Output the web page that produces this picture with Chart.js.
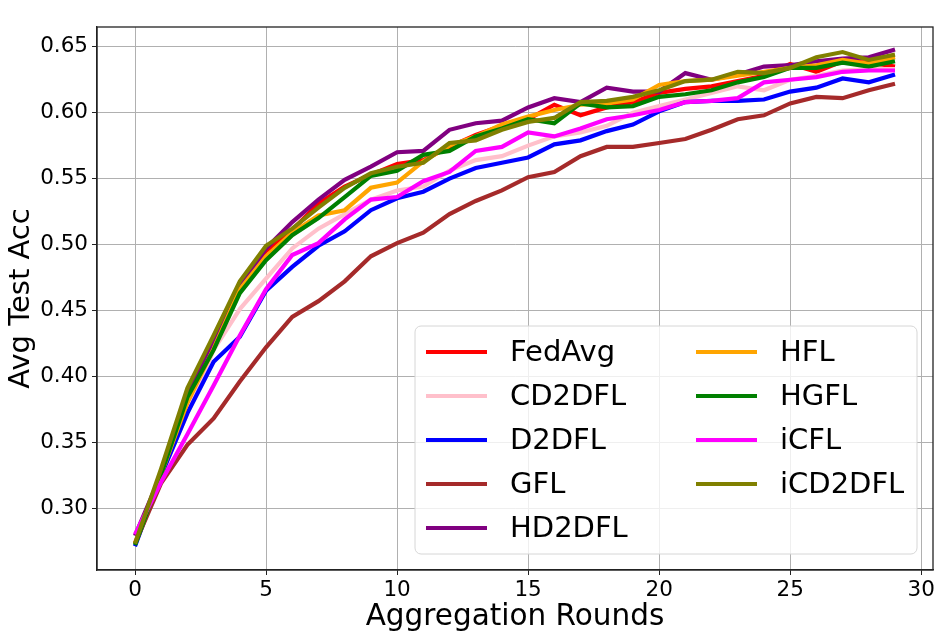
<!DOCTYPE html>
<html>
<head>
<meta charset="utf-8">
<script src="https://cdn.jsdelivr.net/npm/chart.js@4.4.0/dist/chart.umd.min.js"></script>
<style>
  body { margin: 0; background: #fff; }
  #wrap { width: 942px; height: 637px; }
</style>
</head>
<body>
<div id="wrap"><canvas id="accChart" width="942" height="637"></canvas></div>
<script>
var rounds = [0, 1, 2, 3, 4, 5, 6, 7, 8, 9, 10, 11, 12, 13, 14, 15, 16, 17, 18, 19, 20, 21, 22, 23, 24, 25, 26, 27, 28, 29];
var xTicks = [0, 5, 10, 15, 20, 25, 30];
var yTicks = [0.30, 0.35, 0.40, 0.45, 0.50, 0.55, 0.60, 0.65];

var fedAvg   = [0.273, 0.327, 0.380, 0.425, 0.468, 0.495, 0.511, 0.531, 0.544, 0.553, 0.561, 0.564, 0.574, 0.583, 0.590, 0.595, 0.606, 0.598, 0.604, 0.608, 0.615, 0.618, 0.620, 0.624, 0.628, 0.637, 0.631, 0.639, 0.638, 0.635];
var cd2dfl   = [0.274, 0.325, 0.372, 0.420, 0.451, 0.474, 0.497, 0.512, 0.523, 0.534, 0.541, 0.544, 0.556, 0.564, 0.567, 0.575, 0.582, 0.585, 0.590, 0.600, 0.605, 0.610, 0.615, 0.620, 0.617, 0.625, 0.628, 0.632, 0.633, 0.633];
var d2dfl    = [0.271, 0.325, 0.372, 0.411, 0.430, 0.465, 0.483, 0.499, 0.510, 0.526, 0.535, 0.540, 0.550, 0.558, 0.562, 0.566, 0.576, 0.579, 0.586, 0.591, 0.601, 0.608, 0.609, 0.609, 0.610, 0.616, 0.619, 0.626, 0.623, 0.629];
var gfl      = [0.273, 0.319, 0.348, 0.368, 0.396, 0.422, 0.445, 0.457, 0.472, 0.491, 0.501, 0.509, 0.523, 0.533, 0.541, 0.551, 0.555, 0.567, 0.574, 0.574, 0.577, 0.580, 0.587, 0.595, 0.598, 0.607, 0.612, 0.611, 0.617, 0.622];
var hd2dfl   = [0.279, 0.326, 0.385, 0.428, 0.468, 0.497, 0.517, 0.534, 0.549, 0.559, 0.570, 0.571, 0.587, 0.592, 0.594, 0.604, 0.611, 0.608, 0.619, 0.616, 0.616, 0.630, 0.625, 0.629, 0.635, 0.636, 0.639, 0.641, 0.642, 0.648];
var hfl      = [0.273, 0.326, 0.380, 0.421, 0.466, 0.491, 0.509, 0.522, 0.526, 0.543, 0.547, 0.563, 0.575, 0.582, 0.591, 0.597, 0.602, 0.606, 0.607, 0.610, 0.621, 0.624, 0.625, 0.628, 0.631, 0.634, 0.636, 0.640, 0.637, 0.642];
var hgfl     = [0.272, 0.326, 0.384, 0.420, 0.463, 0.488, 0.507, 0.520, 0.536, 0.552, 0.556, 0.568, 0.571, 0.582, 0.588, 0.595, 0.592, 0.607, 0.604, 0.605, 0.612, 0.614, 0.617, 0.623, 0.627, 0.634, 0.634, 0.638, 0.635, 0.639];
var icfl     = [0.280, 0.320, 0.356, 0.393, 0.431, 0.466, 0.492, 0.501, 0.519, 0.534, 0.536, 0.548, 0.555, 0.571, 0.574, 0.585, 0.582, 0.588, 0.595, 0.598, 0.602, 0.608, 0.609, 0.611, 0.623, 0.625, 0.627, 0.631, 0.632, 0.632];
var icd2dfl  = [0.273, 0.330, 0.391, 0.431, 0.472, 0.499, 0.512, 0.528, 0.543, 0.554, 0.559, 0.562, 0.577, 0.579, 0.587, 0.593, 0.596, 0.608, 0.609, 0.612, 0.617, 0.624, 0.625, 0.631, 0.630, 0.634, 0.642, 0.646, 0.640, 0.644];

var names  = ['FedAvg', 'CD2DFL', 'D2DFL', 'GFL', 'HD2DFL', 'HFL', 'HGFL', 'iCFL', 'iCD2DFL'];
var series = [fedAvg, cd2dfl, d2dfl, gfl, hd2dfl, hfl, hgfl, icfl, icd2dfl];
var colors = ['#ff0000', '#ffc0cb', '#0000ff', '#a52a2a', '#800080', '#ffa500', '#008000', '#ff00ff', '#808000'];

var FONT = "'DejaVu Sans', sans-serif";

function toPoints(vals) {
  return rounds.map(function (r, i) { return { x: r, y: vals[i] }; });
}

var datasets = series.map(function (vals, i) {
  return {
    label: names[i],
    data: toPoints(vals),
    borderColor: colors[i],
    backgroundColor: colors[i],
    borderWidth: 4.2,
    pointRadius: 0,
    tension: 0,
    fill: false,
    order: series.length - 1 - i   // last series on top, like matplotlib
  };
});

// frame on all four sides + matplotlib style 2-column legend
var frameLegend = {
  id: 'frameLegend',
  afterDatasetsDraw: function (chart) {
    var a = chart.chartArea, c = chart.ctx;
    c.save();
    c.strokeStyle = '#222';
    c.lineWidth = 1.3;
    c.strokeRect(a.left, a.top, a.right - a.left, a.bottom - a.top);

    var w = 502, h = 228;
    var bx = a.right - 16 - w, by = a.bottom - 16 - h, r = 6;
    c.beginPath();
    c.moveTo(bx + r, by);
    c.arcTo(bx + w, by, bx + w, by + h, r);
    c.arcTo(bx + w, by + h, bx, by + h, r);
    c.arcTo(bx, by + h, bx, by, r);
    c.arcTo(bx, by, bx + w, by, r);
    c.closePath();
    c.fillStyle = 'rgba(255,255,255,0.8)';
    c.fill();
    c.strokeStyle = '#d6d6d6';
    c.lineWidth = 1;
    c.stroke();

    c.font = '29px ' + FONT;
    c.textBaseline = 'middle';
    c.textAlign = 'left';
    for (var i = 0; i < names.length; i++) {
      var col = i < 5 ? 0 : 1;
      var row = i < 5 ? i : i - 5;
      var x0 = bx + 11 + col * 270;
      var y0 = by + 26 + row * 44;
      c.beginPath();
      c.moveTo(x0, y0);
      c.lineTo(x0 + 61, y0);
      c.strokeStyle = colors[i];
      c.lineWidth = 4.2;
      c.stroke();
      c.fillStyle = '#000';
      c.fillText(names[i], x0 + 84, y0 + 1);
    }
    c.restore();
  }
};

var ctx = document.getElementById('accChart');
var accChart = new Chart(ctx, {
  type: 'line',
  data: { datasets: datasets },
  plugins: [frameLegend],
  options: {
    responsive: false,
    animation: false,
    devicePixelRatio: 1,
    layout: { padding: { top: 27, right: 9, left: 0, bottom: 0 } },
    plugins: {
      legend: { display: false },
      tooltip: { enabled: false }
    },
    scales: {
      x: {
        type: 'linear',
        min: -1.45,
        max: 30.45,
        afterBuildTicks: function (scale) {
          scale.ticks = xTicks.map(function (v) { return { value: v }; });
        },
        afterFit: function (scale) { scale.height = 67; },
        grid: { color: '#b0b0b0', lineWidth: 1, tickLength: 5, tickColor: '#222' },
        border: { display: true, color: '#222', width: 1.3 },
        ticks: {
          font: { family: FONT, size: 21.5 },
          color: '#000',
          padding: 3,
          maxRotation: 0,
          callback: function (v) { return v; }
        },
        title: {
          display: true,
          text: 'Aggregation Rounds',
          font: { family: FONT, size: 29.5 },
          color: '#000',
          padding: { top: 0, bottom: 2 }
        }
      },
      y: {
        type: 'linear',
        min: 0.253,
        max: 0.665,
        afterBuildTicks: function (scale) {
          scale.ticks = yTicks.map(function (v) { return { value: v }; });
        },
        afterFit: function (scale) { scale.width = 97; },
        grid: { color: '#b0b0b0', lineWidth: 1, tickLength: 5, tickColor: '#222' },
        border: { display: true, color: '#222', width: 1.3 },
        ticks: {
          font: { family: FONT, size: 21.5 },
          color: '#000',
          padding: 4,
          callback: function (v) { return v.toFixed(2); }
        },
        title: {
          display: true,
          text: 'Avg Test Acc',
          font: { family: FONT, size: 29 },
          color: '#000',
          padding: { top: 4, bottom: 0 }
        }
      }
    }
  }
});
</script>
</body>
</html>
